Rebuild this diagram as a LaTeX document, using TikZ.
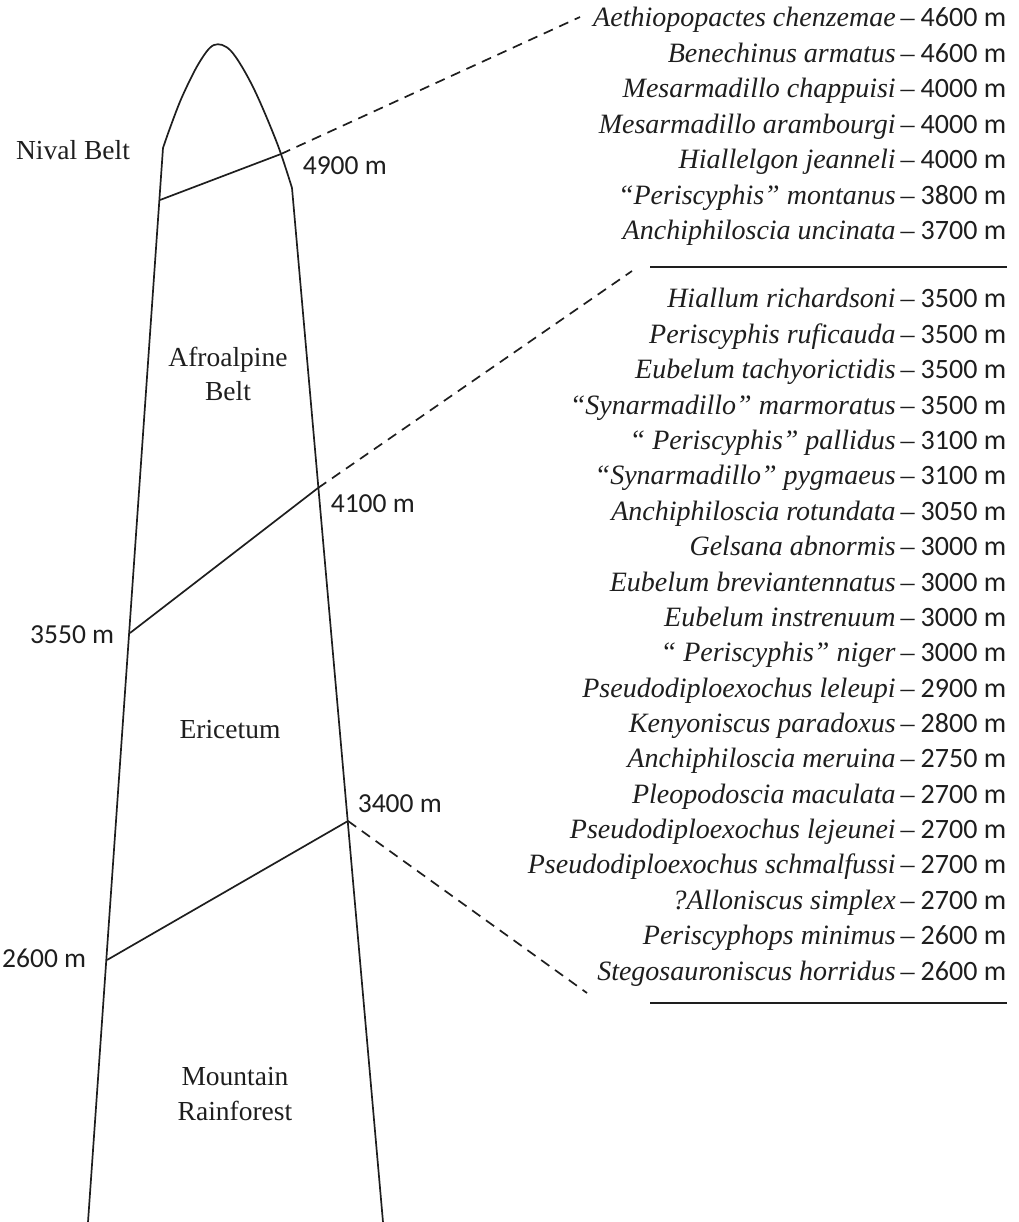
\documentclass[tikz,border=0pt]{standalone}
\usepackage{fontspec}
\setmainfont{Liberation Serif}
\setsansfont{Carlito}
\definecolor{ink}{HTML}{1E1E1E}
\newcommand\sprow[4]{\node[sp] (#1) at (1007,#2) {\textit{#3}\hspace{5pt}–\hspace{6pt}{\sffamily\fontsize{28}{35}\selectfont #4 m}};}
\begin{document}
\begin{tikzpicture}[x=1pt,y=-1pt,line width=1.7pt,line join=round,color=ink,
  zone/.style={font=\fontsize{27.5}{34}\selectfont,inner sep=0pt,anchor=base},
  alt/.style={font=\sffamily\fontsize{27.5}{30}\selectfont,inner sep=0pt},
  sp/.style={font=\fontsize{28}{35}\selectfont,inner sep=0pt,anchor=base east},
  link/.style={dash pattern=on 10pt off 7pt},
  rule/.style={line width=2pt}]
\useasboundingbox (0,0) rectangle (1018,1222);
% mountain outline
\coordinate (bl) at (88,1222);
\coordinate (br) at (383,1222);
\draw (bl) -- plot[smooth,tension=0.55] coordinates {(163,148) (170,128) (182,97) (199,63) (214,45) (231,51) (253,87) (277,143) (292,188)} -- (br);
% belt boundaries
\coordinate (n1) at (160,200);
\coordinate (n2) at (281,154);
\coordinate (a1) at (130,633);
\coordinate (a2) at (318,488);
\coordinate (e1) at (107,960);
\coordinate (e2) at (348,821);
\draw (n1) -- (n2);
\draw (a1) -- (a2);
\draw (e1) -- (e2);
% dashed links
\coordinate (d1) at (580,17);
\coordinate (d2) at (632,271);
\coordinate (d3) at (587,993);
\draw[link] (n2) -- (d1);
\draw[link] (a2) -- (d2);
\draw[link] (e2) -- (d3);
% zone labels
\node[zone] (nival) at (73,160) {Nival Belt};
\node[zone] (afro1) at (228,366) {Afroalpine};
\node[zone] (afro2) at (228,400) {Belt};
\node[zone] (eric) at (230,738) {Ericetum};
\node[zone] (mr1) at (235,1085) {Mountain};
\node[zone] (mr2) at (235,1120) {Rainforest};
% altitude labels
\node[alt,anchor=base west] (h4900) at (302,175) {4900 m};
\node[alt,anchor=base west] (h4100) at (330,512) {4100 m};
\node[alt,anchor=base east] (h3550) at (115,643) {3550 m};
\node[alt,anchor=base west] (h3400) at (357,812) {3400 m};
\node[alt,anchor=base east] (h2600) at (87,967) {2600 m};
% upper list
\sprow{s1}{27}{Aethiopopactes chenzemae}{4600}
\sprow{s2}{62.5}{Benechinus armatus}{4600}
\sprow{s3}{98}{Mesarmadillo chappuisi}{4000}
\sprow{s4}{133.5}{Mesarmadillo arambourgi}{4000}
\sprow{s5}{169}{Hiallelgon jeanneli}{4000}
\sprow{s6}{204.5}{“Periscyphis” montanus}{3800}
\sprow{s7}{240}{Anchiphiloscia uncinata}{3700}
\coordinate (r1a) at (650,267);
\coordinate (r1b) at (1007,267);
\draw[rule] (r1a) -- (r1b);
% lower list
\sprow{t1}{308}{Hiallum richardsoni}{3500}
\sprow{t2}{343.4}{Periscyphis ruficauda}{3500}
\sprow{t3}{378.7}{Eubelum tachyorictidis}{3500}
\sprow{t4}{414.1}{“Synarmadillo” marmoratus}{3500}
\sprow{t5}{449.5}{“ Periscyphis” pallidus}{3100}
\sprow{t6}{484.9}{“Synarmadillo” pygmaeus}{3100}
\sprow{t7}{520.2}{Anchiphiloscia rotundata}{3050}
\sprow{t8}{555.6}{Gelsana abnormis}{3000}
\sprow{t9}{591}{Eubelum breviantennatus}{3000}
\sprow{t10}{626.3}{Eubelum instrenuum}{3000}
\sprow{t11}{661.7}{“ Periscyphis” niger}{3000}
\sprow{t12}{697.1}{Pseudodiploexochus leleupi}{2900}
\sprow{t13}{732.4}{Kenyoniscus paradoxus}{2800}
\sprow{t14}{767.8}{Anchiphiloscia meruina}{2750}
\sprow{t15}{803.2}{Pleopodoscia maculata}{2700}
\sprow{t16}{838.6}{Pseudodiploexochus lejeunei}{2700}
\sprow{t17}{873.9}{Pseudodiploexochus schmalfussi}{2700}
\sprow{t18}{909.3}{?Alloniscus simplex}{2700}
\sprow{t19}{944.7}{Periscyphops minimus}{2600}
\sprow{t20}{980}{Stegosauroniscus horridus}{2600}
\coordinate (r2a) at (650,1003);
\coordinate (r2b) at (1007,1003);
\draw[rule] (r2a) -- (r2b);
\end{tikzpicture}
\end{document}
